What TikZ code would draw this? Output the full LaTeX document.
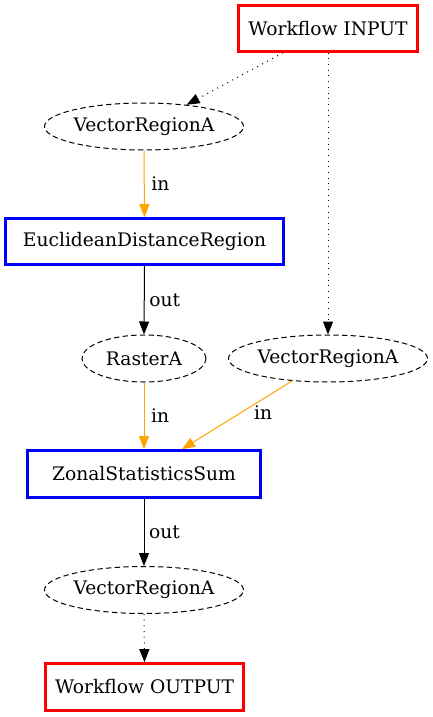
\documentclass[tikz,border=0pt]{standalone}
\usepackage{fontspec}
\setmainfont{DejaVu Serif}
\usetikzlibrary{shapes.geometric,arrows.meta,calc}
\definecolor{gvorange}{HTML}{FFA500}
\tikzset{
  px/.style={x=0.75pt,y=-0.75pt},
  iobox/.style={draw=red,line width=2pt,rectangle,inner sep=0pt,font=\fontsize{14pt}{16pt}\selectfont},
  procbox/.style={draw=blue,line width=2pt,rectangle,inner sep=0pt,font=\fontsize{14pt}{16pt}\selectfont},
  dataell/.style={draw,ellipse,dash pattern=on 4pt off 2.5pt,line width=0.75pt,inner sep=0pt,minimum height=35.25pt,font=\fontsize{14pt}{16pt}\selectfont},
  edge/.style={line width=0.75pt,-{Triangle[length=9.75pt,width=7.5pt]}},
  flowedge/.style={edge,dash pattern=on 0.75pt off 3.5pt},
  inedge/.style={edge,draw=gvorange,-{Triangle[length=9.75pt,width=7.5pt,fill=gvorange]}},
  elab/.style={font=\fontsize{14pt}{16pt}\selectfont,inner sep=0pt,anchor=west}
}
\begin{document}
\begin{tikzpicture}[px]
\useasboundingbox (0,0) rectangle (432,717);
\node[iobox,minimum width=134pt,minimum height=34.5pt] (inp) at (328,28.5) {Workflow INPUT};
\node[dataell,minimum width=147pt] (vra1) at (144,126.5) {VectorRegionA};
\node[procbox,minimum width=208.5pt,minimum height=34.5pt] (euc) at (144.5,241.5) {EuclideanDistanceRegion};
\node[dataell,minimum width=93pt] (ras) at (144,358.5) {RasterA};
\node[dataell,minimum width=147pt] (vra2) at (328,358.5) {VectorRegionA};
\node[procbox,minimum width=174.75pt,minimum height=35.25pt] (zon) at (144,474) {ZonalStatisticsSum};
\node[dataell,minimum width=147pt] (vra3) at (144,590) {VectorRegionA};
\node[iobox,minimum width=148.5pt,minimum height=35.25pt] (out) at (144.5,687) {Workflow OUTPUT};

\draw[flowedge] ([xshift=-33.75pt]inp.south) -- (vra1.27);
\draw[flowedge] (inp.south) -- (vra2.north);
\draw[inedge] (vra1.south) -- node[elab,xshift=5pt]{in} (euc.north);
\draw[edge] (euc.south) -- node[elab,xshift=3.5pt]{out} (ras.north);
\draw[inedge] (ras.south) -- node[elab,xshift=5pt]{in} (zon.north);
\draw[inedge] (vra2.212) -- node[elab,xshift=12.5pt,yshift=2pt]{in} ([xshift=28.5pt]zon.north);
\draw[edge] (zon.south) -- node[elab,xshift=3.5pt]{out} (vra3.north);
\draw[flowedge] (vra3.south) -- (out.north);
\end{tikzpicture}
\end{document}
